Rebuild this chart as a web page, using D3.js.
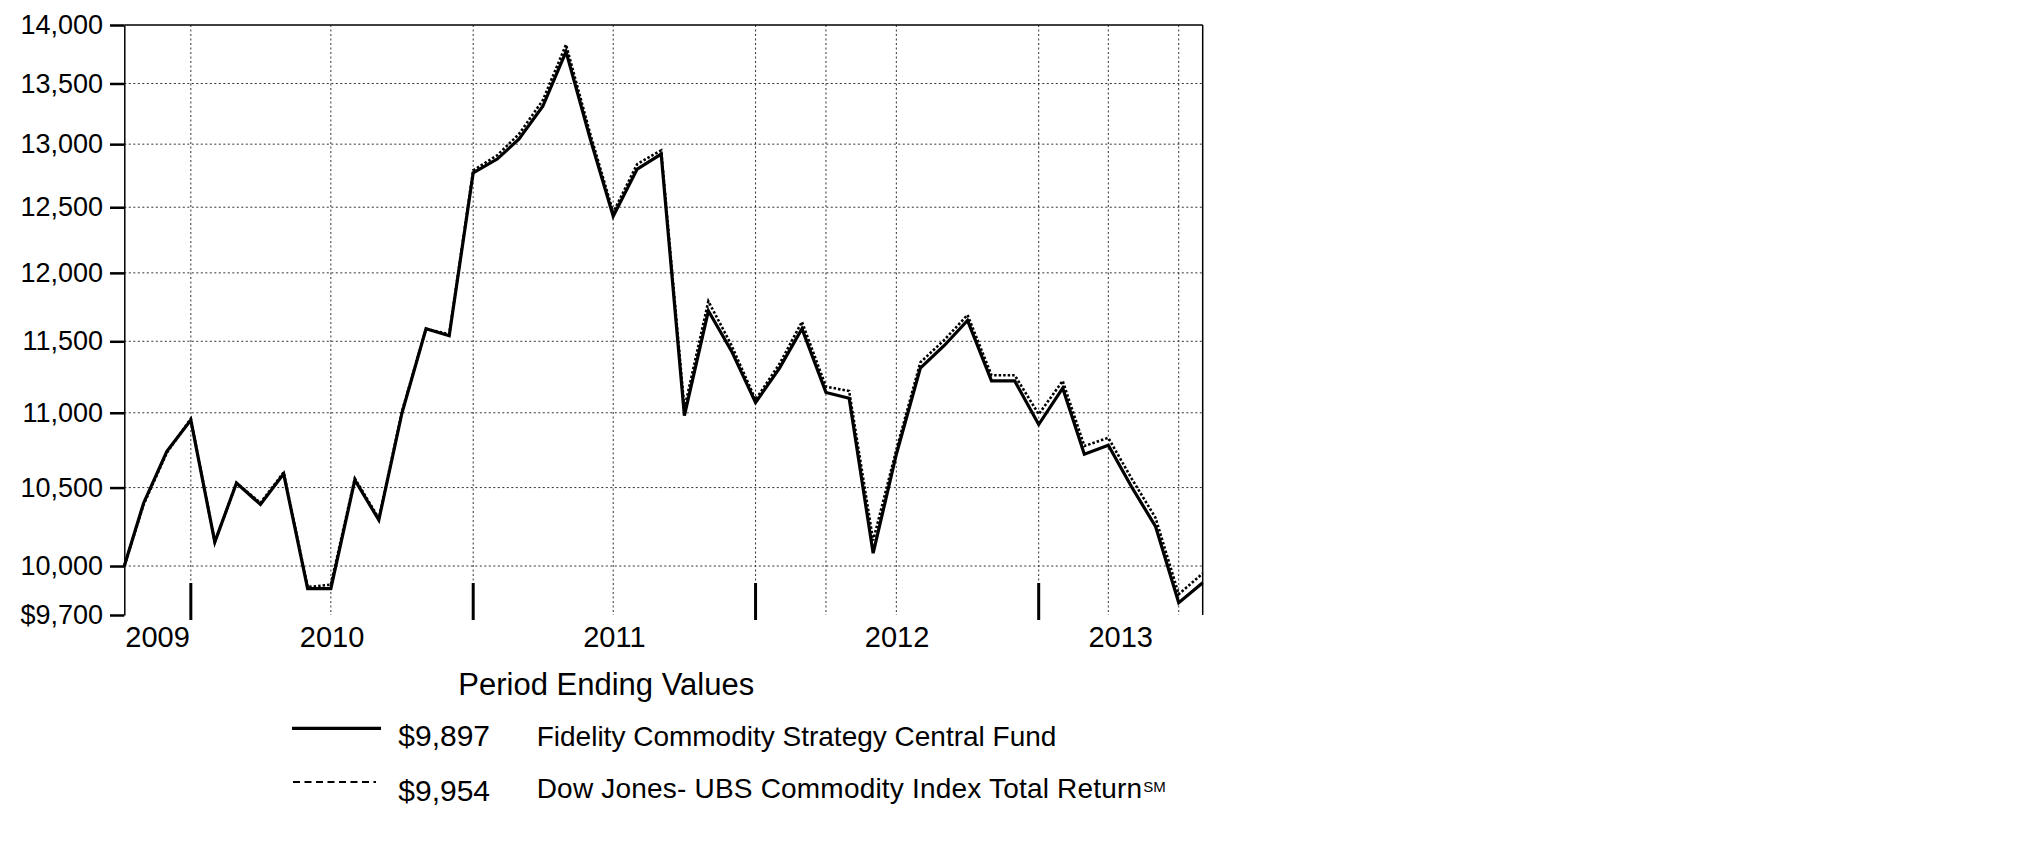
<!DOCTYPE html>
<html><head><meta charset="utf-8">
<script src="https://cdn.jsdelivr.net/npm/d3@7"></script>
<style>
html,body{margin:0;padding:0;background:#fff;}
svg{display:block;font-family:"Liberation Sans",Arial,sans-serif;}
</style></head><body>
<svg id="chart" width="2025" height="851"></svg>
<script>
// ---- data ----
const dates = [
  "2009-10-06","2009-10-31","2009-11-30","2009-12-31",
  "2010-01-31","2010-02-28","2010-03-31","2010-04-30","2010-05-31","2010-06-30",
  "2010-07-31","2010-08-31","2010-09-30","2010-10-31","2010-11-30","2010-12-31",
  "2011-01-31","2011-02-28","2011-03-31","2011-04-30","2011-05-31","2011-06-30",
  "2011-07-31","2011-08-31","2011-09-30","2011-10-31","2011-11-30","2011-12-31",
  "2012-01-31","2012-02-29","2012-03-31","2012-04-30","2012-05-31","2012-06-30",
  "2012-07-31","2012-08-31","2012-09-30","2012-10-31","2012-11-30","2012-12-31",
  "2013-01-31","2013-02-28","2013-03-31","2013-04-30","2013-05-31","2013-06-30",
  "2013-07-31"
];
const fundValues = [
  10000,10400,10740,10950,
  10150,10530,10390,10590,9860,9860,
  10550,10290,11000,11590,11540,12770,
  12880,13040,13310,13770,13050,12430,
  12800,12920,10980,11720,11430,11070,
  11310,11590,11140,11100,10080,10720,
  11310,11470,11650,11220,11220,10920,
  11170,10720,10780,10505,10250,9775,
  9897
];
const indexValues = [
  10000,10390,10730,10960,
  10150,10530,10400,10600,9870,9885,
  10560,10300,11010,11590,11550,12790,
  12910,13080,13360,13830,13090,12460,
  12840,12950,11030,11790,11470,11090,
  11340,11640,11180,11150,10160,10750,
  11350,11510,11690,11260,11260,10990,
  11220,10775,10830,10560,10305,9826,
  9954
];
const yTicks = [9700,10000,10500,11000,11500,12000,12500,13000,13500,14000];
const yTickLabels = ["$9,700","10,000","10,500","11,000","11,500","12,000","12,500","13,000","13,500","14,000"];
const gridDates = ["2009-12-31","2010-06-30","2010-12-31","2011-06-30","2011-12-31","2012-03-31","2012-06-30","2012-12-31","2013-03-31","2013-06-30"];
const yearBoundaries = ["2009-10-06","2009-12-31","2010-12-31","2011-12-31","2012-12-31","2013-07-31"];
const yearLabels = ["2009","2010","2011","2012","2013"];
const legendTitle = "Period Ending Values";
const seriesNames = ["Fidelity Commodity Strategy Central Fund","Dow Jones- UBS Commodity Index Total Return"];
const seriesSup = ["","SM"];
const endingValues = ["$9,897","$9,954"];

// ---- layout ----
const parse = d3.utcParse("%Y-%m-%d");
const L = 124.3, R = 1202.7, T = 25, B = 615;
const svg = d3.select("#chart");

const x = d3.scaleUtc().domain([parse(dates[0]), parse(dates[dates.length-1])]).range([L, R]);
const y = d3.scaleLog().domain([9700, 14000]).range([B, T]);

const gridStyle = g => g.attr("stroke","#333").attr("stroke-width",1).attr("stroke-dasharray","2,2.5");

// horizontal grid
svg.append("g").selectAll("line").data(yTicks.filter(v => v > 9700 && v < 14000)).join("line")
  .attr("x1", L).attr("x2", R).attr("y1", d => y(d)).attr("y2", d => y(d))
  .call(gridStyle);
// vertical grid
svg.append("g").selectAll("line").data(gridDates.map(parse)).join("line")
  .attr("x1", d => x(d)).attr("x2", d => x(d)).attr("y1", T).attr("y2", B)
  .call(gridStyle);

// frame: top and right
svg.append("line").attr("x1", L).attr("x2", R).attr("y1", T).attr("y2", T).attr("stroke","#000").attr("stroke-width",1.5);
svg.append("line").attr("x1", R).attr("x2", R).attr("y1", T).attr("y2", B).attr("stroke","#000").attr("stroke-width",1.5);

// y axis
const yAxis = d3.axisLeft(y).tickValues(yTicks).tickFormat((d,i) => yTickLabels[i])
  .tickSize(14.3).tickSizeOuter(0).tickPadding(7);
const ga = svg.append("g").attr("transform", `translate(${L},0)`).call(yAxis);
ga.select(".domain").attr("stroke","#000").attr("stroke-width",1.5);
ga.selectAll(".tick line").attr("stroke","#000").attr("stroke-width",2.5);
ga.selectAll(".tick text").attr("fill","#000").attr("font-size",27)
  .attr("font-family","'Liberation Sans',Arial,sans-serif");

// year boundary ticks
svg.append("g").selectAll("line").data(yearBoundaries.slice(1,-1).map(parse)).join("line")
  .attr("x1", d => x(d)).attr("x2", d => x(d)).attr("y1", 583).attr("y2", 620)
  .attr("stroke","#000").attr("stroke-width",3);

// year labels
svg.append("g").selectAll("text").data(yearLabels).join("text")
  .attr("x", (d,i) => (x(parse(yearBoundaries[i])) + x(parse(yearBoundaries[i+1]))) / 2)
  .attr("y", 646.5).attr("text-anchor","middle").attr("font-size",29).attr("fill","#000")
  .text(d => d);

// series
const fund = dates.map((d,i) => ({date: parse(d), v: fundValues[i]}));
const idx = dates.map((d,i) => ({date: parse(d), v: indexValues[i]}));
const line = d3.line().x(d => x(d.date)).y(d => y(d.v));

svg.append("path").datum(idx).attr("d", line).attr("fill","none")
  .attr("stroke","#000").attr("stroke-width",2.6).attr("stroke-dasharray","2.5,2")
  .attr("stroke-linejoin","miter");
svg.append("path").datum(fund).attr("d", line).attr("fill","none")
  .attr("stroke","#000").attr("stroke-width",3.2).attr("stroke-linejoin","miter").attr("stroke-miterlimit",4);

// legend
svg.append("text").attr("x", 458.3).attr("y", 695).attr("font-size",31).attr("fill","#000").text(legendTitle);

const legY = [728.3, 782];
const legBase = [746, 798];
const legSpacing = [0, 0.2];
svg.append("line").attr("x1",292).attr("x2",381).attr("y1",legY[0]).attr("y2",legY[0])
  .attr("stroke","#000").attr("stroke-width",3.3);
svg.append("line").attr("x1",293).attr("x2",376).attr("y1",legY[1]).attr("y2",legY[1])
  .attr("stroke","#000").attr("stroke-width",2.2).attr("stroke-dasharray","7,4.5");

svg.append("g").selectAll("text").data(endingValues).join("text")
  .attr("x", 398.3).attr("y", (d,i) => legBase[i] + (i === 1 ? 3 : 0))
  .attr("font-size",30).attr("fill","#000").text(d => d);

const names = svg.append("g").selectAll("text").data(seriesNames).join("text")
  .attr("x", 536.7).attr("y", (d,i) => legBase[i])
  .attr("font-size",28).attr("letter-spacing",(d,i) => legSpacing[i]).attr("fill","#000");
names.append("tspan").text(d => d);
names.append("tspan").attr("font-size",15).attr("letter-spacing",0).attr("dy",-6).attr("dx",1).text((d,i) => seriesSup[i]);
</script>
</body></html>
